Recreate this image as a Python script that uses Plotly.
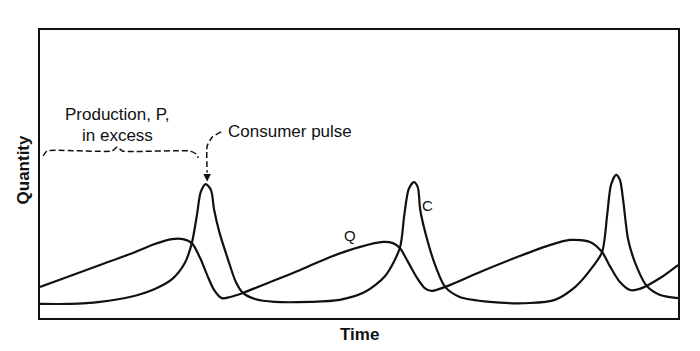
import plotly.graph_objects as go

# Production / resource curve Q (time, quantity)
q_time = [0, 0.47, 0.94, 1.41, 1.80, 2.07, 2.24, 2.38, 2.51, 2.62, 2.73, 2.85, 2.98, 3.18,
          3.61, 4.08, 4.55, 5.02, 5.38, 5.53, 5.64, 5.77, 5.91, 6.03, 6.14, 6.35,
          6.90, 7.52, 7.99, 8.31, 8.62, 8.81, 8.93, 9.09, 9.25, 9.40, 9.72, 10]
q_vals = [1.08, 1.46, 1.84, 2.22, 2.57, 2.74, 2.74, 2.60, 2.08, 1.49, 0.97, 0.69, 0.73, 0.87,
          1.25, 1.67, 2.12, 2.47, 2.64, 2.60, 2.43, 1.94, 1.39, 1.04, 0.94, 1.08,
          1.60, 2.15, 2.53, 2.71, 2.64, 2.29, 1.81, 1.25, 0.97, 1.01, 1.39, 1.84]

# Consumer curve C (time, quantity)
c_time = [0, 0.47, 0.94, 1.41, 1.80, 2.07, 2.27, 2.38, 2.46, 2.52, 2.60, 2.68, 2.73, 2.81,
          2.95, 3.07, 3.18, 3.37, 3.68, 4.23, 4.70, 5.09, 5.41, 5.64, 5.71, 5.78, 5.86,
          5.92, 5.96, 6.07, 6.21, 6.35, 6.58, 7.05, 7.68, 8.07, 8.39, 8.65, 8.81, 8.89,
          8.95, 9.03, 9.09, 9.14, 9.22, 9.36, 9.51, 9.72, 10]
c_vals = [0.49, 0.49, 0.56, 0.73, 1.01, 1.35, 1.91, 2.60, 3.58, 4.38, 4.65, 4.44, 3.75, 2.99,
          2.01, 1.25, 0.87, 0.66, 0.56, 0.56, 0.63, 0.90, 1.46, 2.43, 3.58, 4.48, 4.72,
          4.55, 3.75, 2.71, 1.74, 1.08, 0.73, 0.56, 0.52, 0.63, 1.08, 1.74, 2.29, 3.58,
          4.62, 4.97, 4.79, 4.10, 2.71, 1.74, 1.11, 0.80, 0.69]

# Dashed bracket "Production, P, in excess"
bracket_t = [0.05, 0.11, 1.13, 1.21, 1.29, 2.35, 2.45, 2.48]
bracket_q = [5.63, 5.80, 5.80, 5.94, 5.80, 5.80, 5.69, 5.56]

# Dashed leader "Consumer pulse"
pulse_t = [2.84, 2.70, 2.62, 2.62]
pulse_q = [6.46, 6.28, 5.97, 5.05]

FONT = "Liberation Sans, Arial, sans-serif"
BLACK = "#111111"

fig = go.Figure()
fig.add_trace(go.Scatter(x=q_time, y=q_vals, mode="lines",
                         line=dict(color=BLACK, width=2.2, shape="spline", smoothing=0.8)))
fig.add_trace(go.Scatter(x=c_time, y=c_vals, mode="lines",
                         line=dict(color=BLACK, width=2.2, shape="spline", smoothing=0.8)))
fig.add_trace(go.Scatter(x=bracket_t, y=bracket_q, mode="lines",
                         line=dict(color=BLACK, width=1.5, dash="6px,3px", shape="spline", smoothing=0.5)))
fig.add_trace(go.Scatter(x=pulse_t, y=pulse_q, mode="lines",
                         line=dict(color=BLACK, width=1.5, dash="6px,3px", shape="spline", smoothing=0.5)))

annotations = [
    dict(x=2.62, y=4.74, ax=2.62, ay=5.05, xref="x", yref="y", axref="x", ayref="y",
         showarrow=True, arrowhead=2, arrowsize=1, arrowwidth=1.5, arrowcolor=BLACK, text=""),
    dict(x=1.22, y=7.05, text="Production, P,", showarrow=False, xref="x", yref="y",
         font=dict(family=FONT, size=17, color=BLACK)),
    dict(x=1.22, y=6.33, text="in excess", showarrow=False, xref="x", yref="y",
         font=dict(family=FONT, size=17, color=BLACK)),
    dict(x=2.92, y=6.49, text="Consumer pulse", showarrow=False, xref="x", yref="y",
         xanchor="left", font=dict(family=FONT, size=17, color=BLACK)),
    dict(x=4.86, y=2.85, text="Q", showarrow=False, xref="x", yref="y",
         font=dict(family=FONT, size=15, color=BLACK)),
    dict(x=6.07, y=3.89, text="C", showarrow=False, xref="x", yref="y",
         font=dict(family=FONT, size=15, color=BLACK)),
    dict(x=0.5, y=0, xref="paper", yref="paper", yanchor="top", yshift=-5,
         text="<b>Time</b>", showarrow=False, font=dict(family=FONT, size=17, color=BLACK)),
    dict(x=0, y=0.514, xref="paper", yref="paper", xanchor="right", xshift=-5,
         text="<b>Quantity</b>", textangle=-90, showarrow=False,
         font=dict(family=FONT, size=17, color=BLACK)),
]

fig.update_layout(
    width=700, height=351,
    margin=dict(l=40, r=22, t=30, b=33),
    paper_bgcolor="white", plot_bgcolor="white",
    showlegend=False,
    annotations=annotations,
)
fig.update_xaxes(range=[0, 10], showticklabels=False, ticks="", showgrid=False, zeroline=False,
                 showline=True, linecolor=BLACK, linewidth=1.5, mirror=True)
fig.update_yaxes(range=[0, 10], showticklabels=False, ticks="", showgrid=False, zeroline=False,
                 showline=True, linecolor=BLACK, linewidth=1.5, mirror=True)

fig.write_html("out.html")
